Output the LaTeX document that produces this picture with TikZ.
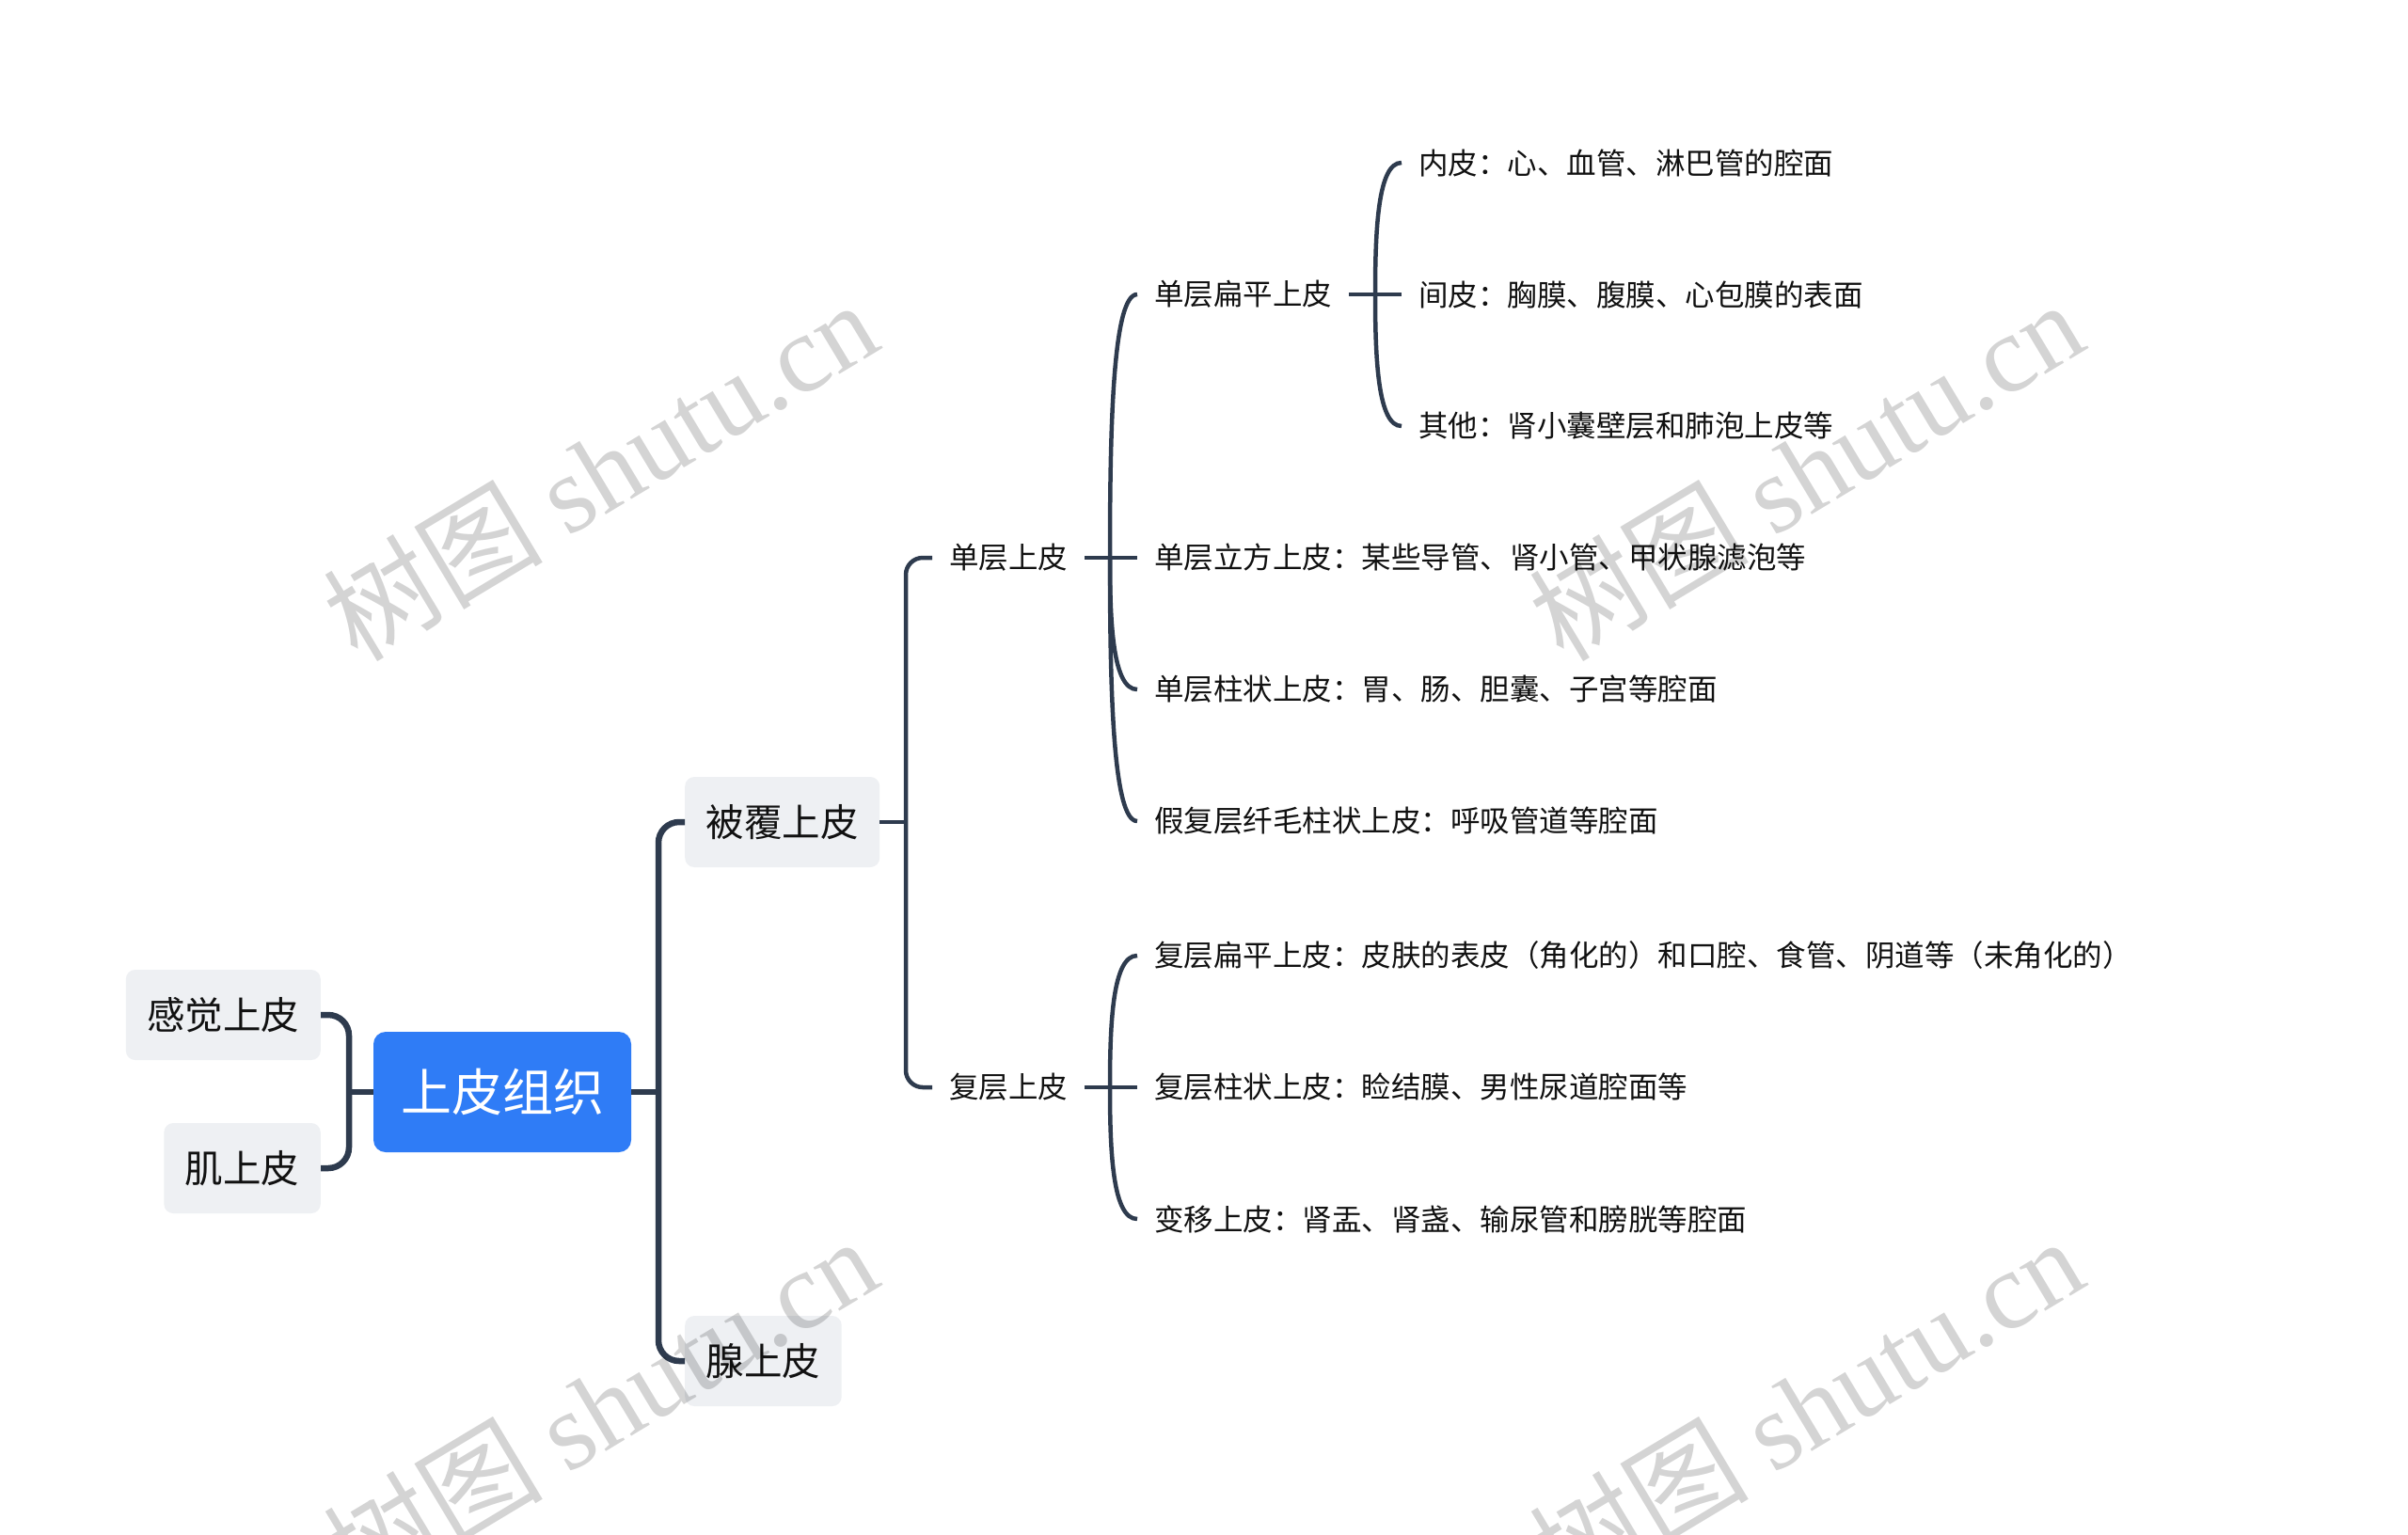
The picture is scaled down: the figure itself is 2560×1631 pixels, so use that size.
\documentclass[tikz,border=0pt]{standalone}
\usepackage{fontspec}
\setmainfont{Noto Sans CJK SC}
\newfontfamily\wmserif{Liberation Serif}
\usetikzlibrary{calc}
\definecolor{linec}{HTML}{2E3B4E}
\definecolor{boxfill}{HTML}{EEF0F3}
\definecolor{rootblue}{HTML}{2F7CF6}
\definecolor{txt}{HTML}{111111}
\begin{document}
\begin{tikzpicture}[x=1pt,y=-1pt,
  rootbox/.style={fill=rootblue, rounded corners=13pt, text=white, font=\fontsize{54}{60}\selectfont, minimum width=274pt, minimum height=128pt, inner sep=0pt},
  lvlbox/.style={fill=boxfill, rounded corners=10pt, text=txt, font=\fontsize{40.5}{46}\selectfont, minimum height=96pt, inner xsep=22.5pt, inner ysep=0pt},
  leaf/.style={text=txt, font=\fontsize{31.5}{36}\selectfont, inner xsep=18pt, inner ysep=4pt, anchor=west},
  linea/.style={draw=linec, line width=6.5pt, rounded corners=22pt},
  lineb/.style={draw=linec, line width=4.5pt, rounded corners=18pt},
  linec/.style={draw=linec, line width=4.5pt},
  wmark/.style={text=black, text opacity=0.17, rotate=31, anchor=base west, inner sep=0pt, font=\fontsize{117}{117}\selectfont}
]
\useasboundingbox (0,0) rectangle (2560,1631);
\clip (0,0) rectangle (2560,1631);
\fill[white] (0,0) rectangle (2560,1631);

% nodes
\node[rootbox] (root) at (534,1161) {上皮组织};
\node[lvlbox, anchor=east] (gj) at (341,1079) {感觉上皮};
\node[lvlbox, anchor=east] (jj) at (341,1242) {肌上皮};
\node[lvlbox, anchor=west] (bf) at (728,874) {被覆上皮};
\node[lvlbox, anchor=west] (xs) at (728,1447) {腺上皮};

\node[leaf] (dc) at (991,593) {单层上皮};
\node[leaf] (fc) at (991,1156) {复层上皮};

\node[leaf] (dcbp) at (1209,313) {单层扁平上皮};
\node[leaf] (dclf) at (1209,593) {单层立方上皮：某些导管、肾小管、甲状腺滤泡等};
\node[leaf] (dczz) at (1209,733) {单层柱状上皮：胃、肠、胆囊、子宫等腔面};
\node[leaf] (jfc) at (1209,873) {假复层纤毛柱状上皮：呼吸管道等腔面};

\node[leaf] (fcbp) at (1209,1016) {复层扁平上皮：皮肤的表皮（角化的）和口腔、食管、阴道等（未角化的）};
\node[leaf] (fczz) at (1209,1156) {复层柱状上皮：睑结膜、男性尿道腔面等};
\node[leaf] (byp) at (1209,1296) {变移上皮：肾盂、肾盏、输尿管和膀胱等腔面};

\node[leaf] (np) at (1490,173) {内皮：心、血管、淋巴管的腔面};
\node[leaf] (jp) at (1490,313) {间皮：胸膜、腹膜、心包膜的表面};
\node[leaf] (qt) at (1490,453) {其他：肾小囊壁层和肺泡上皮等};

% junctions
\coordinate (j0L) at (371,1161);
\coordinate (j0R) at (700,1161);
\coordinate (j1) at (963,874);
\coordinate (j2a) at (1180,593);
\coordinate (j2b) at (1180,1156);
\coordinate (j3) at (1462,313);

% level 1
\draw[linea] (root.west) -- (j0L);
\draw[linea] (gj.east) -| (j0L) |- (jj.east);
\draw[linea] (root.east) -- (j0R);
\draw[linea] (bf.west) -| (j0R) |- (xs.west);

% level 2
\draw[lineb] (bf.east) -- (j1);
\draw[lineb] (dc.west) -| (j1) |- (fc.west);

% level 3 single layer
\draw[linec] (dc.east) -- (dclf.west);
\foreach \c in {dcbp,dczz,jfc}{
  \draw[linec] (j2a) .. controls ($(j2a)!0.5!(j2a|-\c.west)$) and ($(j2a|-\c.west)+(3,0)$) .. (\c.west);
}
% level 3 stratified
\draw[linec] (fc.east) -- (fczz.west);
\foreach \c in {fcbp,byp}{
  \draw[linec] (j2b) .. controls ($(j2b)!0.5!(j2b|-\c.west)$) and ($(j2b|-\c.west)+(3,0)$) .. (\c.west);
}
% level 4
\draw[linec] (dcbp.east) -- (jp.west);
\foreach \c in {np,qt}{
  \draw[linec] (j3) .. controls ($(j3)!0.5!(j3|-\c.west)$) and ($(j3|-\c.west)+(3,0)$) .. (\c.west);
}

% watermarks
\node[wmark] (wm1) at (380,706) {树图 {\wmserif shutu.cn}};
\node[wmark] (wm2) at (1662,706) {树图 {\wmserif shutu.cn}};
\node[wmark] (wm3) at (380,1702) {树图 {\wmserif shutu.cn}};
\node[wmark] (wm4) at (1662,1702) {树图 {\wmserif shutu.cn}};
\end{tikzpicture}
\end{document}
